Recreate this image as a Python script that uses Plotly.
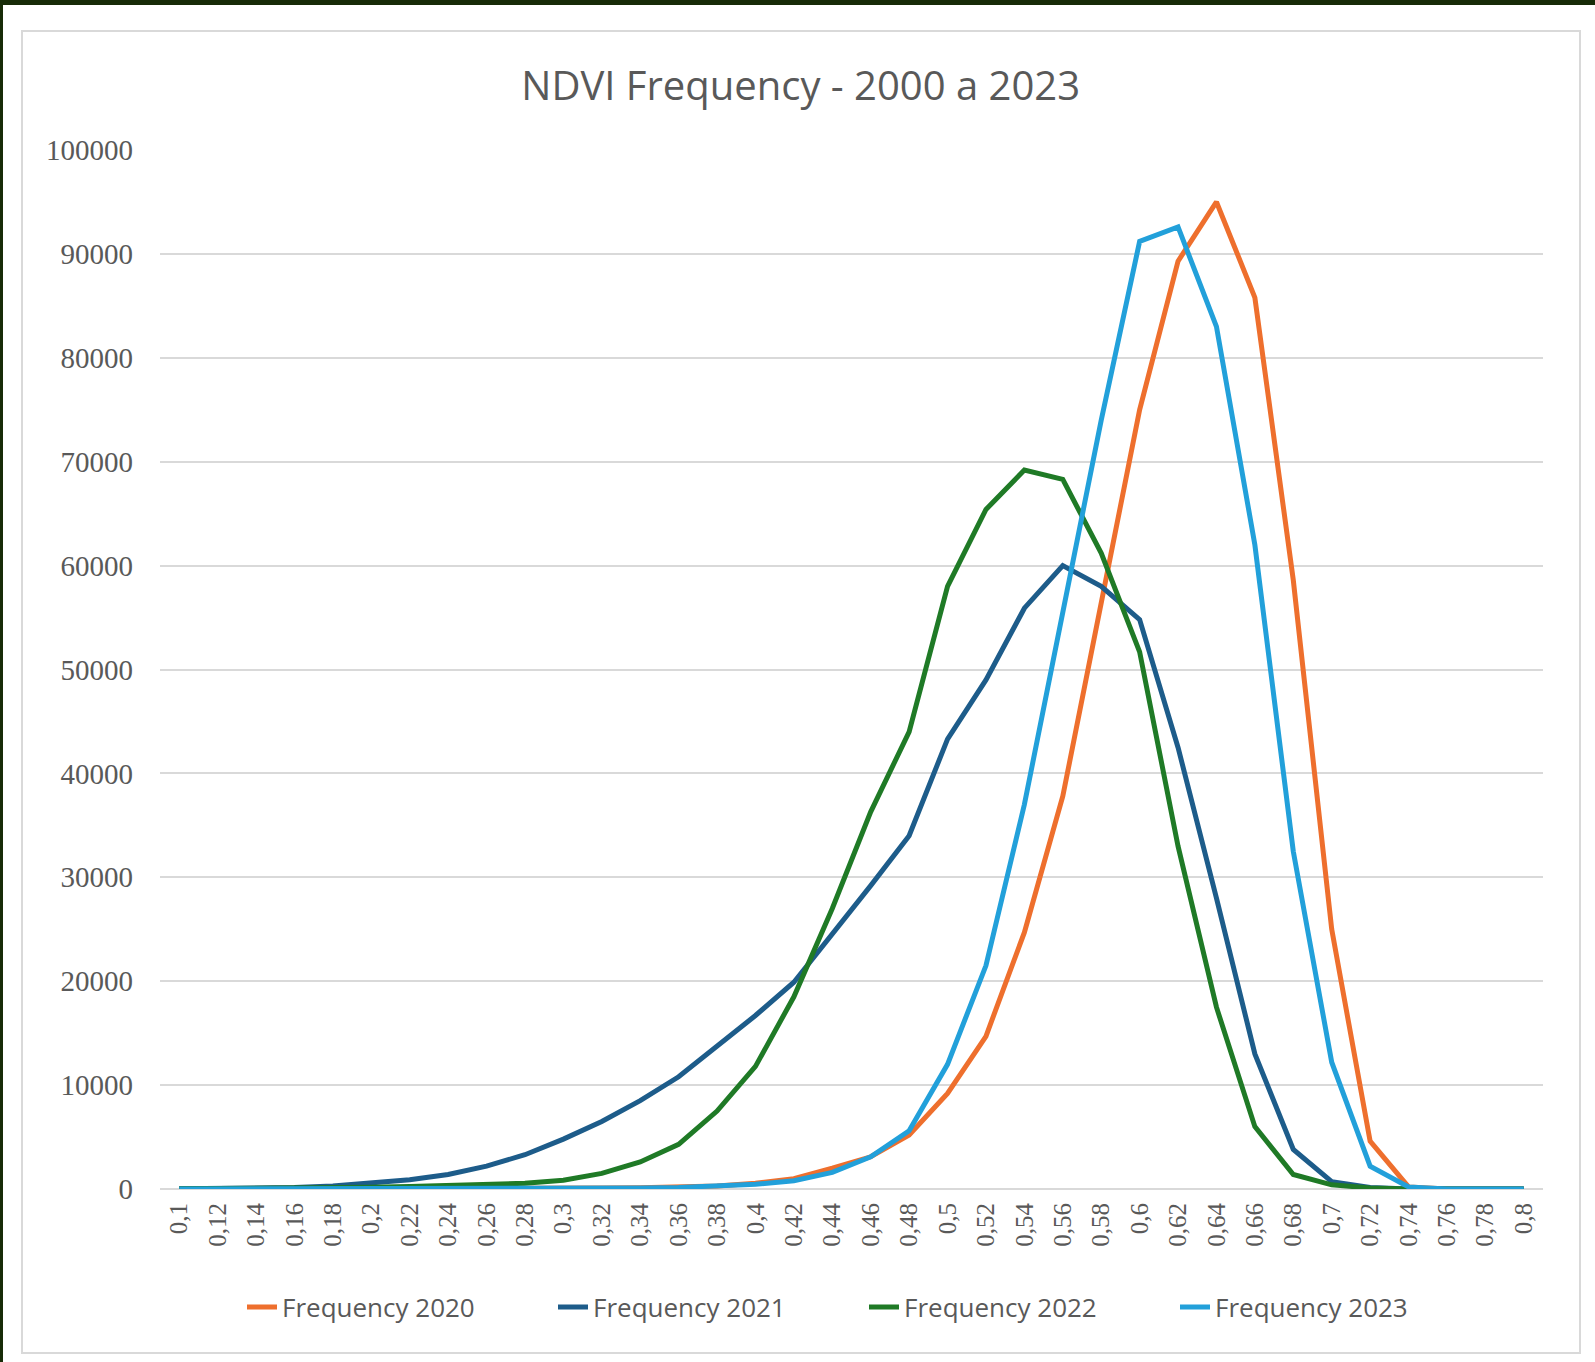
import plotly.graph_objects as go

# ---------------- data ----------------
ndvi_labels = ["0,1", "0,12", "0,14", "0,16", "0,18", "0,2", "0,22", "0,24", "0,26", "0,28",
               "0,3", "0,32", "0,34", "0,36", "0,38", "0,4", "0,42", "0,44", "0,46", "0,48",
               "0,5", "0,52", "0,54", "0,56", "0,58", "0,6", "0,62", "0,64", "0,66", "0,68",
               "0,7", "0,72", "0,74", "0,76", "0,78", "0,8"]

freq_2020 = [0, 0, 0, 0, 0, 0, 0, 0, 50, 60,
             80, 100, 130, 180, 300, 550, 1000, 2000, 3100, 5200,
             9200, 14700, 24700, 37800, 56600, 75000, 89300, 95000, 85800, 58600,
             25000, 4600, 200, 0, 0, 0]

freq_2021 = [20, 40, 80, 150, 300, 550, 900, 1400, 2200, 3300,
             4800, 6500, 8500, 10800, 13700, 16700, 19900, 24500, 29200, 34000,
             43300, 49000, 55900, 60000, 58000, 54800, 42500, 28000, 13000, 3800,
             700, 150, 0, 0, 0, 0]

freq_2022 = [20, 30, 50, 80, 120, 170, 230, 300, 400, 550,
             850, 1500, 2600, 4300, 7500, 11800, 18500, 27000, 36300, 44000,
             58000, 65400, 69200, 68300, 61200, 51700, 33000, 17500, 6000, 1400,
             400, 100, 0, 0, 0, 0]

freq_2023 = [0, 0, 0, 0, 0, 0, 0, 0, 0, 20,
             40, 80, 100, 150, 250, 450, 800, 1600, 3100, 5600,
             12000, 21500, 37000, 55500, 74000, 91200, 92600, 83000, 62000, 32500,
             12200, 2200, 200, 0, 0, 0]

y_ticks = [0, 10000, 20000, 30000, 40000, 50000, 60000, 70000, 80000, 90000, 100000]

series = [
    ("Frequency 2020", freq_2020, "#EE6F2D"),
    ("Frequency 2021", freq_2021, "#1D5C8A"),
    ("Frequency 2022", freq_2022, "#1F7A26"),
    ("Frequency 2023", freq_2023, "#22A0DA"),
]

# ---------------- layout geometry ----------------
W, H = 1595, 1362
L, R, T, B = 160, 52, 150, 173
PW = W - L - R
PH = H - T - B


def px(x):
    return (x - L) / PW


def py(y):
    return (H - B - y) / PH


fig = go.Figure()
for name, vals, color in series:
    fig.add_trace(go.Scatter(
        x=ndvi_labels, y=vals, name=name, mode="lines",
        line=dict(color=color, width=5),
    ))

grey = "#595959"
fig.update_layout(
    width=W, height=H,
    margin=dict(l=L, r=R, t=T, b=B),
    paper_bgcolor="white", plot_bgcolor="white",
    title=dict(text="NDVI Frequency - 2000 a 2023", x=0.502, xref="container",
               y=1 - 86 / H, yref="container", xanchor="center", yanchor="middle",
               font=dict(family="Open Sans", size=40, color=grey)),
    xaxis=dict(type="category", range=[-0.5, len(ndvi_labels) - 0.5],
               showgrid=False, zeroline=False, showline=False,
               tickangle=-90, ticks="", ticklabelstandoff=8,
               tickfont=dict(family="Liberation Serif", size=25, color=grey)),
    yaxis=dict(range=[0, 100000], tickvals=y_ticks, ticktext=[str(v) for v in y_ticks],
               showgrid=True, gridcolor="#D9D9D9", gridwidth=2,
               zeroline=True, zerolinecolor="#D9D9D9", zerolinewidth=2,
               showline=False, ticks="", ticklabelstandoff=26,
               tickfont=dict(family="Liberation Serif", size=29, color=grey)),
    legend=dict(orientation="h", x=px(242), xanchor="left", y=py(1307), yanchor="middle",
                entrywidth=266, entrywidthmode="pixels",
                font=dict(family="Open Sans", size=26, color=grey),
                bgcolor="rgba(0,0,0,0)"),
    showlegend=True,
)

shapes = [
    # outer dark frame strips
    dict(type="rect", xref="paper", yref="paper", x0=px(0), x1=px(W), y0=py(0), y1=py(5),
         fillcolor="#172B07", line=dict(width=0), layer="above"),
    dict(type="rect", xref="paper", yref="paper", x0=px(0), x1=px(3), y0=py(0), y1=py(H),
         fillcolor="#172B07", line=dict(width=0), layer="above"),
    # chart area border
    dict(type="rect", xref="paper", yref="paper", x0=px(22), x1=px(1580), y0=py(31), y1=py(1353),
         fillcolor="rgba(0,0,0,0)", line=dict(color="#D9D9D9", width=2), layer="below"),
]
fig.update_layout(shapes=shapes)

fig.write_html("out.html", config={"displayModeBar": False},
               post_script="document.body.style.margin='0';document.body.style.padding='0';")
